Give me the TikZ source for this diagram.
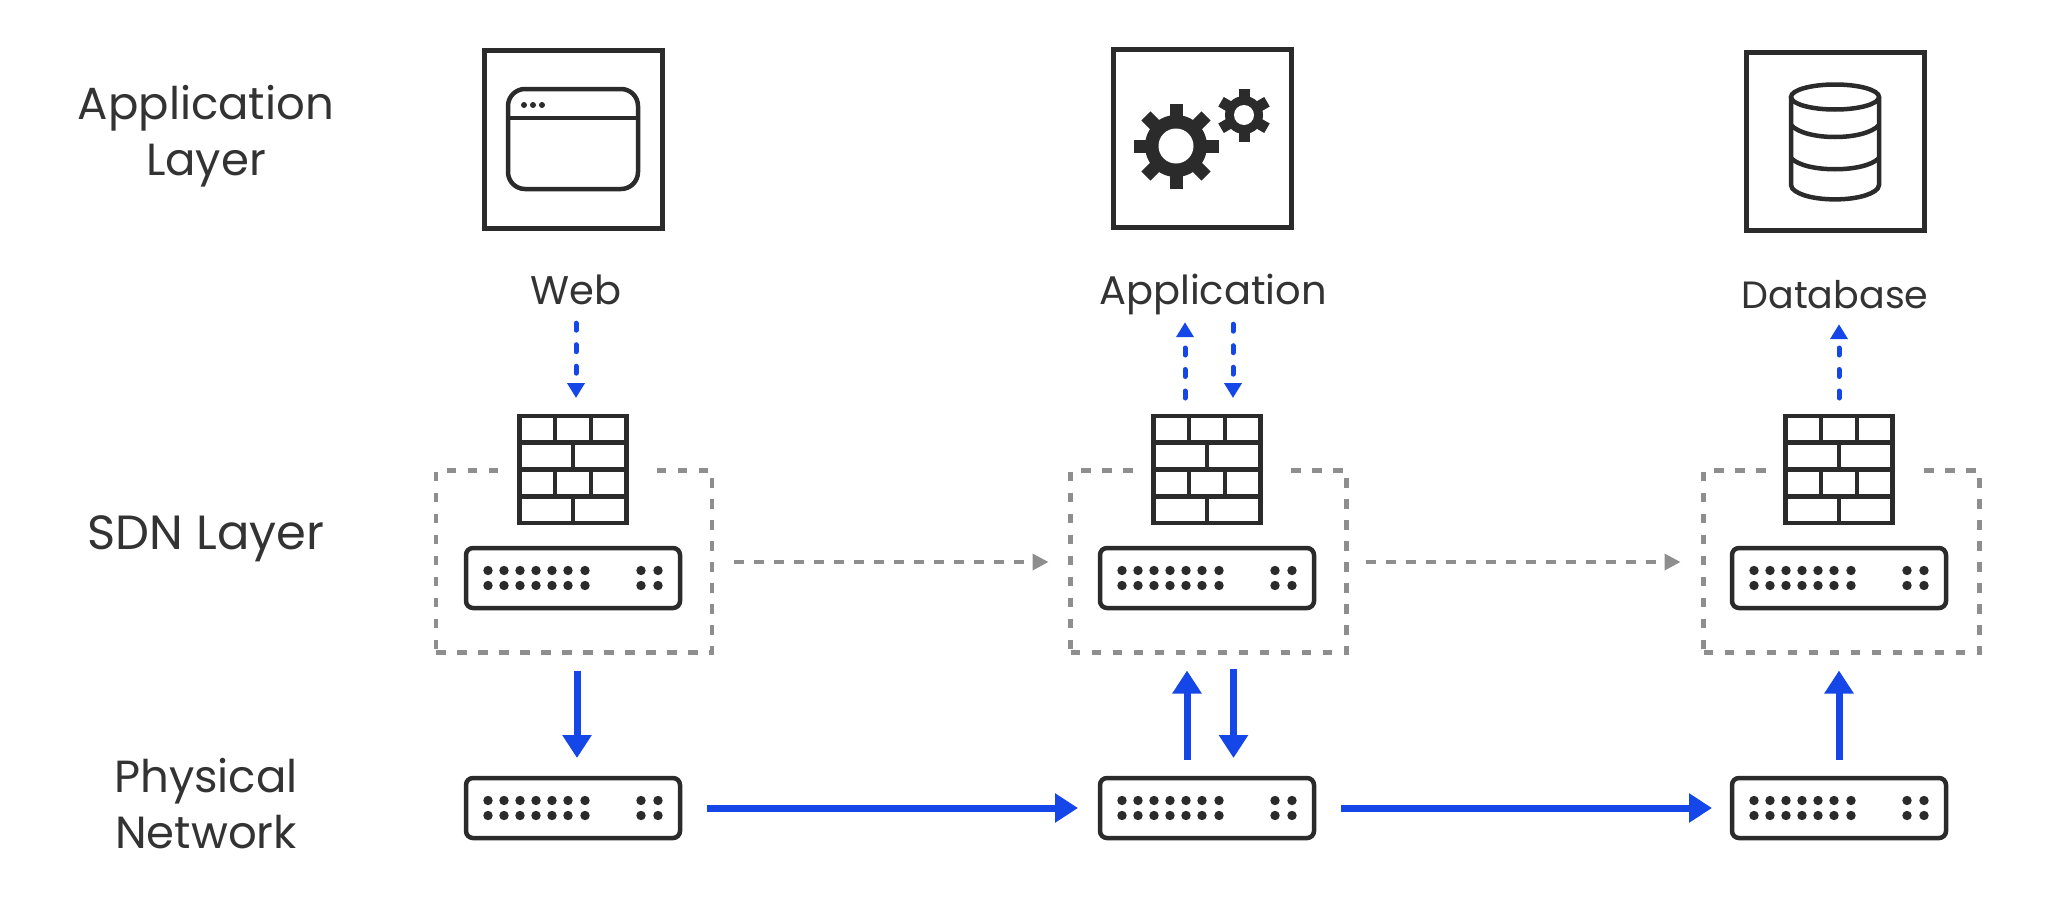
\documentclass[tikz,border=0pt]{standalone}
\usepackage{fontspec}
\setmainfont{Poppins}
\usetikzlibrary{positioning,arrows.meta}
\definecolor{icondark}{HTML}{2B2B2B}
\definecolor{textdark}{HTML}{333333}
\definecolor{flowblue}{HTML}{1546E8}
\definecolor{dashgray}{HTML}{8E8E8E}

\tikzset{
  layerlabel/.style={align=center,text=textdark,font=\fontsize{45}{56}\selectfont,inner sep=0pt},
  tierlabel/.style={text=textdark,font=\fontsize{40}{48}\selectfont,inner sep=0pt,text height=27pt,text depth=9pt},
  iconbox/.style={draw=icondark,line width=5pt,minimum width=178pt,minimum height=178pt,outer sep=0pt},
  firewall/.style={draw=icondark,fill=white,line width=4.5pt,minimum width=107pt,minimum height=107pt,outer sep=0pt,
    preaction={draw=white,line width=40pt}},
  switchbox/.style={draw=icondark,fill=white,line width=4.5pt,rounded corners=7pt,minimum width=214pt,minimum height=60pt,outer sep=0pt},
  sdnzone/.style={draw=dashgray,line width=4.5pt,dash pattern=on 9.5pt off 11.5pt,minimum width=276pt,minimum height=182pt,outer sep=0pt},
  solidflow/.style={draw=flowblue,line width=7pt,-{Triangle[length=23pt,width=28pt]}},
  dashflow/.style={draw=flowblue,line width=5pt,dash pattern=on 7pt off 14.5pt,line cap=round,-{Triangle[length=15pt,width=17pt]}},
  zoneflow/.style={draw=dashgray,line width=3.5pt,dash pattern=on 10pt off 10pt,-{Triangle[length=16pt,width=16pt]}},
  ports/.pic={
    \foreach \x in {-85,-69,-53,-37,-21,-5,12,68,85}
      \foreach \y in {-7.5,7.5}
        \fill[icondark] (\x,\y) circle (4.7pt);
  },
  bricks/.pic={
    \draw[icondark,line width=4.5pt]
      (-53,-27) -- (53,-27) (-53,0) -- (53,0) (-53,27) -- (53,27)
      (-18,-53) -- (-18,-27) (18,-53) -- (18,-27) (0,-27) -- (0,0)
      (-18,0) -- (-18,27) (18,0) -- (18,27) (0,27) -- (0,53);
  },
  browser/.pic={
    \draw[icondark,line width=4.5pt,rounded corners=17pt] (-65,-50) rectangle (65,50);
    \draw[icondark,line width=4pt] (-65,-21) -- (65,-21);
    \foreach \x in {-49,-40,-31}
      \fill[icondark] (\x,-34) circle (3pt);
  },
  dbstack/.pic={
    \draw[icondark,line width=4.5pt] (0,-44) ellipse (44pt and 12.5pt);
    \draw[icondark,line width=4.5pt,rounded corners=2pt] (-44,-44) -- (-44,46)
      .. controls (-30,62) and (30,62) .. (44,46) -- (44,-44);
    \draw[icondark,line width=4.5pt] (-44,-16) .. controls (-30,0) and (30,0) .. (44,-16);
    \draw[icondark,line width=4.5pt] (-44,17) .. controls (-30,32) and (30,32) .. (44,17);
  },
  gear/.pic={
    \fill[icondark] (0,0) circle (\gearbody pt);
    \foreach \a in {1,...,\gearteeth}
      \fill[icondark,rotate=\a*360/\gearteeth+90] (0,-\gearwide) rectangle (\gearouter,\gearwide);
    \fill[white] (0,0) circle (\gearhole pt);
  }
}

\begin{document}
\begin{tikzpicture}[x=1pt,y=-1pt]

  \useasboundingbox[fill=white] (0,0) rectangle (2048,910);

  % Zones go first, the firewalls cut into them

  \node[sdnzone] (zonea) at (574,561.5) {};
  \node[sdnzone] (zoneb) at (1208.5,561.5) {};
  \node[sdnzone] (zonec) at (1841.5,561.5) {};

  % Switches and firewalls

  \node[switchbox] (swa) at (573,578) {};
  \node[switchbox] (swb) at (1207,578) {};
  \node[switchbox] (swc) at (1839,578) {};
  \node[firewall, above=25pt of swa] (fwa) {};
  \node[firewall, above=25pt of swb] (fwb) {};
  \node[firewall, above=25pt of swc] (fwc) {};

  % Physical network

  \node[switchbox, below=170pt of swa] (pha) {};
  \node[switchbox, below=170pt of swb] (phb) {};
  \node[switchbox, below=170pt of swc] (phc) {};

  % Tiers

  \node[iconbox] (web) at (573,139) {};
  \node[iconbox] (app) at (1202.5,138) {};
  \node[iconbox] (db) at (1835,141) {};
  \node[tierlabel] (webtxt) at (576,295) {Web};
  \node[tierlabel] (apptxt) at (1213,295) {Application};
  \node[tierlabel, font=\fontsize{38}{48}\selectfont] (dbtxt) at (1835,299) {Database};

  % Layer names

  \node[layerlabel] (applayer) at (206,136) {Application\\Layer};
  \node[layerlabel, font=\fontsize{48}{56}\selectfont] (sdnlayer) at (206,539) {SDN Layer};
  \node[layerlabel] (phylayer) at (206,804) {Physical\\Network};

  % Icons

  \foreach \n in {swa,swb,swc,pha,phb,phc}
    \pic at (\n) {ports};
  \foreach \n in {fwa,fwb,fwc}
    \pic at (\n) {bricks};
  \pic at (web) {browser};
  \pic at (db) {dbstack};
  \def\gearbody{31}\def\gearteeth{8}\def\gearouter{42.5}\def\gearwide{6.5}\def\gearhole{17.5}
  \pic at (1176,146) {gear};
  \def\gearbody{19}\def\gearteeth{6}\def\gearouter{26.5}\def\gearwide{5.5}\def\gearhole{10}
  \pic at (1244,115) {gear};

  % Dashed flows

  \draw[dashflow, shorten <=10pt, shorten >=18pt] (webtxt.south) -- (webtxt.south |- fwa.north);
  \draw[dashflow, shorten <=18pt, shorten >=9pt] ([xshift=-22pt]fwb.north) -- ([xshift=-22pt]fwb.north |- apptxt.south);
  \draw[dashflow, shorten <=11pt, shorten >=18pt] ([xshift=26pt]fwb.north |- apptxt.south) -- ([xshift=26pt]fwb.north);
  \draw[dashflow, shorten <=18pt, shorten >=7pt] (fwc.north) -- (fwc.north |- dbtxt.south);

  \draw[zoneflow, shorten <=22pt, shorten >=22pt] (zonea.east |- 0,562) -- (zoneb.west |- 0,562);
  \draw[zoneflow, shorten <=19pt, shorten >=23pt] (zoneb.east |- 0,562) -- (zonec.west |- 0,562);

  % Solid flows

  \draw[solidflow, shorten <=18pt, shorten >=20pt] ([xshift=3pt]zonea.south) -- ([xshift=3pt]zonea.south |- pha.north);
  \draw[solidflow, shorten <=18pt, shorten >=18pt] ([xshift=-20pt]phb.north) -- ([xshift=-20pt]phb.north |- zoneb.south);
  \draw[solidflow, shorten <=16pt, shorten >=20pt] ([xshift=25pt]zoneb.south) -- ([xshift=25pt]zoneb.south |- phb.north);
  \draw[solidflow, shorten <=18pt, shorten >=18pt] (phc.north) -- (phc.north |- zonec.south);
  \draw[solidflow, shorten <=27pt, shorten >=22pt] (pha.east) -- (phb.west);
  \draw[solidflow, shorten <=27pt, shorten >=20pt] (phb.east) -- (phc.west);

\end{tikzpicture}
\end{document}
